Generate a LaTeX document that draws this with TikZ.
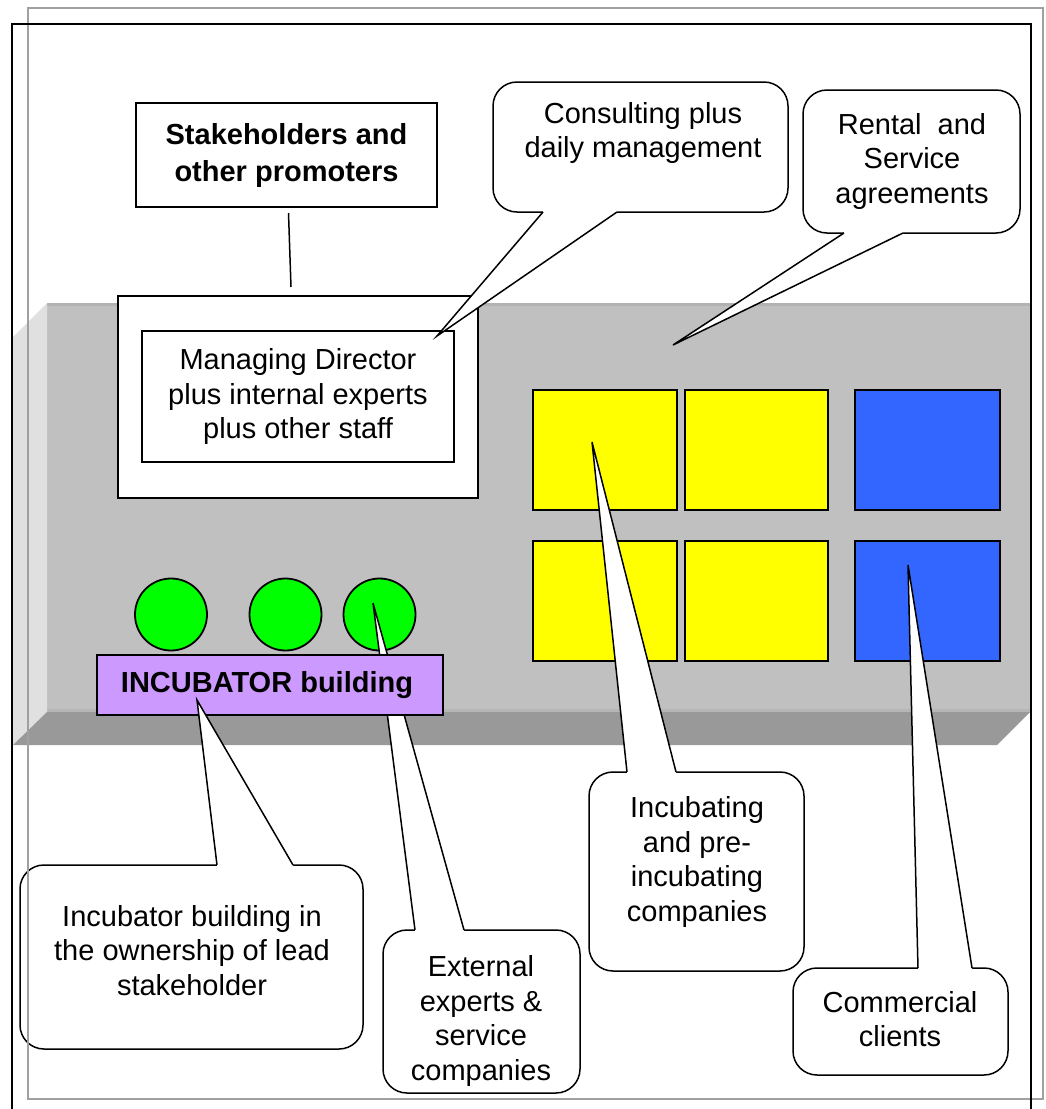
\documentclass[tikz,border=0pt]{standalone}
\usepackage{fontspec}
\setmainfont{Liberation Sans}
\usetikzlibrary{calc}
\definecolor{slabfront}{HTML}{C0C0C0}
\definecolor{slabside}{HTML}{E0E0E0}
\definecolor{slabbottom}{HTML}{999999}
\definecolor{slabtop}{HTML}{B2B2B2}
\definecolor{slabedge}{HTML}{B6B6B6}
\definecolor{yel}{HTML}{FFFF00}
\definecolor{blu}{HTML}{3366FF}
\definecolor{grn}{HTML}{00FF00}
\definecolor{pur}{HTML}{CC99FF}
\definecolor{framegray}{HTML}{A0A0A0}
\newcommand\mycallout[5]{%
  \filldraw[cbox] #1;
  \fill[white] #2 -- #5 -- #3 -- ($#3+#4$) -- ($#2+#4$) -- cycle;
  \draw[cline] #2 -- #5 -- #3;}
\begin{document}
\begin{tikzpicture}[x=1pt,y=-1pt,
  bx/.style={draw=black, line width=1.8pt, inner sep=0pt, outer sep=0pt},
  cbox/.style={fill=white, draw=black, line width=1.5pt, rounded corners=24pt},
  cline/.style={draw=black, line width=1.5pt},
  txt/.style={font=\fontsize{29}{34.5}\selectfont, align=center, inner sep=0pt},
  btxt/.style={font=\fontsize{29}{37}\selectfont\bfseries, align=center},
  ybox/.style={bx, fill=yel, minimum height=120pt},
  bbox/.style={bx, fill=blu, minimum width=145pt, minimum height=120pt},
  gdot/.style={bx, circle, fill=grn, minimum size=72pt}]
\useasboundingbox (0,0) rectangle (1046,1109);

% ---- slab (3D block) ----
\fill[slabfront] (47,303) rectangle (1030,712);
\fill[slabtop] (47,303) rectangle (1030,306);
\fill[slabedge] (47,709) rectangle (1030,713);
\fill[slabside] (47,303) -- (47,712) -- (13,745) -- (13,337) -- cycle;
\fill[slabbottom] (47,712) -- (1030,712) -- (997,745) -- (13,745) -- cycle;

% ---- stakeholders and management ----
\node[bx, fill=white, minimum width=301pt, minimum height=104pt, btxt] (stake) at (286.5,155) {Stakeholders and\\other promoters};
\node[bx, fill=white, minimum width=360pt, minimum height=202pt] (mdout) at (298,397) {};
\node[bx, fill=white, minimum width=312pt, minimum height=131pt, txt] (mdin) at (298,396.5) {Managing Director\\plus internal experts\\plus other staff};
\draw[line width=1.5pt] ($(stake.south)+(2,6)$) -- ($(mdout.north)+(-7,-9)$);

% ---- companies ----
\node[ybox, minimum width=144pt] (y1) at (605,450) {};
\node[ybox, minimum width=143pt] (y2) at (756.5,450) {};
\node[ybox, minimum width=144pt] (y3) at (605,601) {};
\node[ybox, minimum width=143pt] (y4) at (756.5,601) {};
\node[bbox] (b1) at (927.5,450) {};
\node[bbox] (b2) at (927.5,601) {};

% ---- external experts ----
\node[gdot] (g1) at (171,614.5) {};
\node[gdot] (g2) at (285.5,614.5) {};
\node[gdot] (g3) at (379.5,614.5) {};

% ---- callout tips ----
\coordinate (tipC) at (437,336);
\coordinate (tipR) at (673,345);
\coordinate (tipI) at (592,442);
\coordinate (tipM) at (908,565);
\coordinate (tipE) at (373,603);
\coordinate (tipB) at (197,700);

% ---- callouts ----
\mycallout{(493,82) rectangle (788,212)}{(543,212)}{(617,212)}{(0,-4)}{(tipC)}
\node[txt] (tC) at (643,133) {Consulting plus\\daily management};

\mycallout{(803,90) rectangle (1020,233)}{(844,233)}{(903,233)}{(0,-4)}{(tipR)}
\node[txt] (tR) at (912,161) {Rental\ \ and\\Service\\agreements};

\mycallout{(589,772) rectangle (804,971)}{(627,772)}{(676,772)}{(0,4)}{(tipI)}
\node[txt] (tI) at (697,862) {Incubating\\and pre-\\incubating\\companies};

\mycallout{(793,968) rectangle (1008,1075)}{(918,968)}{(972,968)}{(0,4)}{(tipM)}
\node[txt] (tM) at (900,1019) {Commercial\\clients};

\mycallout{(383,930) rectangle (580,1093)}{(415,930)}{(464,930)}{(0,4)}{(tipE)}
\node[txt] (tE) at (481,1021) {External\\experts \&\\service\\companies};

% ---- building (above the external-experts pointer) ----
\node[bx, fill=pur, minimum width=346pt, minimum height=60pt] (bld) at (270,685) {};
\node[btxt, inner sep=0pt] (bldtxt) at (267,685.5) {INCUBATOR building};

\mycallout{(20,865) rectangle (363,1049)}{(217,865)}{(293,865)}{(0,4)}{(tipB)}
\node[txt] (tB) at (192,950.5) {Incubator building in\\the ownership of lead\\stakeholder};

% ---- frames ----
\draw[framegray, line width=1.5pt] (28,8) rectangle (1043,1099);
\draw[black, line width=1.8pt] (12,1125) -- (12,24) -- (1031,24) -- (1031,1125);
\end{tikzpicture}
\end{document}
